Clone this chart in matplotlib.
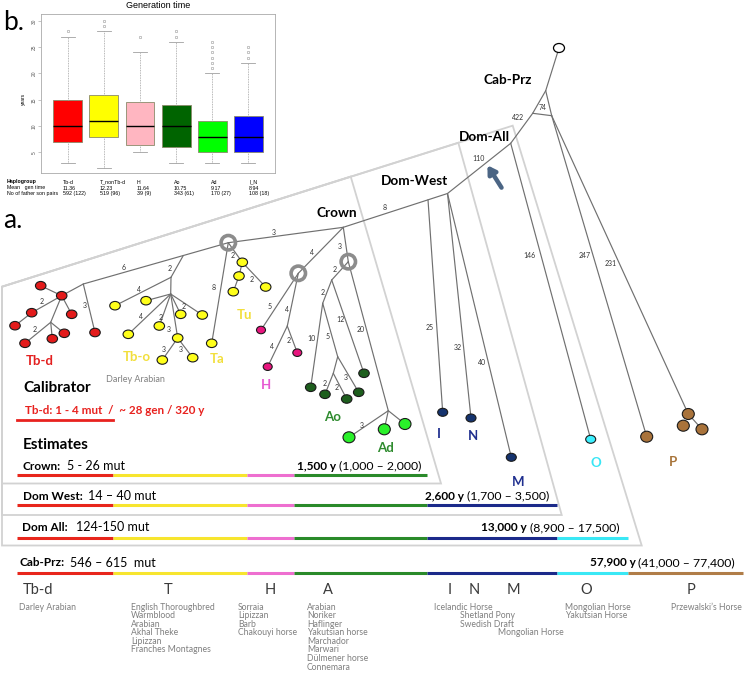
import matplotlib
matplotlib.use('Agg')
import matplotlib.pyplot as plt
from matplotlib.patches import Ellipse, Circle, Polygon

W, H = 747, 676
plt.rcParams['font.family'] = ['Lato', 'DejaVu Sans']

# ---------------- panel b: generation time per haplogroup ----------------
hap_groups = ['Tb-d', 'T_nonTb-d', 'H', 'Ao', 'Ad', 'I_N']
box_colors = ['#ff0000', '#ffff00', '#ffb6c1', '#006400', '#00ff00', '#0000ff']
q1 = [7, 8, 6.5, 6, 5, 5]
medians = [10, 11, 10, 10, 8, 8]
q3 = [15, 16, 14.5, 14, 11, 12]
whisk_lo = [3, 2, 5, 3, 3, 3]
whisk_hi = [27, 28, 24, 26, 20, 22]
outliers = [[28], [29, 30], [27], [27, 28], [21, 22, 23, 24, 25, 26], [23, 24, 25]]
mean_gen = ['11.36', '12.23', '11.64', '10.75', '9.17', '8.94']
pairs = ['592 (122)', '519 (96)', '39 (9)', '343 (61)', '170 (27)', '108 (18)']

# ---------------- panel a: Y-chromosome tree (schematic layout, px) ----------------
nodes = {
    'root': (559, 48), 'cab': (545.7, 90.7), 'triL': (532.7, 113.3), 'triR': (551.7, 115.7),
    'domall': (510.7, 143.3), 'domwest': (447.5, 193.5), 'istart': (428, 199.8),
    'crown': (343.3, 227.3), 'g1': (228.3, 242.7), 'g2': (298.3, 273.3), 'g3': (348.3, 261.7),
    'tbo': (183.3, 255.5), 'tbd': (83.3, 284), 'tboa': (171, 277.3), 'tboh': (170.7, 294),
    'redj': (50.7, 322.3), 'hj': (287.3, 326), 'a1': (331.7, 280), 'a2': (322.7, 303.3),
    'a5': (337.7, 356.7), 'a6': (333.3, 373.3), 'adj': (388.3, 410.7),
    # leaves (haplotypes)
    'r1': (61.7, 295.7), 'r2': (40.7, 285.7), 'r3': (71.7, 314.3), 'r4': (31.7, 312.7),
    'r5': (15, 325.7), 'r6': (25, 343.3), 'r7': (52.3, 338.7), 'r8': (64.3, 333.3), 'r9': (95, 332.5),
    'y1': (115, 305.7), 'y2': (146, 300.7), 'y3': (128.3, 334.3), 'y4': (180.7, 314.3),
    'y5': (202.3, 315), 'y6': (159.3, 326), 'y7': (177.7, 338), 'y8': (162.3, 360), 'y9': (192.7, 357.7),
    'ta': (211.7, 343.3), 'u1': (242.3, 262.3), 'u2': (239, 276), 'u3': (233.3, 291.7), 'u4': (265.7, 287),
    'h1': (261, 330), 'h2': (267.7, 366.7), 'h3': (297.3, 352.7),
    'o1': (310.7, 387.3), 'o2': (325, 394.3), 'o3': (346.7, 399), 'o4': (358.7, 392.3), 'o5': (364, 373.3),
    'd1': (349, 437.3), 'd2': (384.3, 429.3), 'd3': (405, 424),
    'I': (442.7, 412.3), 'N': (471, 418), 'M': (511.3, 457.3), 'O': (590.7, 439.3),
    'p0': (646.7, 436.7), 'p1': (688.3, 414), 'p2': (683.3, 425.7), 'p3': (702, 429.3),
}
# (from, to, mutations, label x, label y)
edges = [
    ('root', 'cab', '', 0, 0), ('cab', 'triL', '', 0, 0), ('cab', 'triR', '', 0, 0),
    ('triL', 'triR', '74', 542.7, 107.3), ('triL', 'domall', '422', 517.7, 117.3),
    ('triR', 'p0', '247', 585, 255), ('triR', 'p1', '231', 611, 263),
    ('domall', 'O', '146', 529.3, 256), ('domall', 'domwest', '110', 479, 158.7),
    ('domwest', 'crown', '8', 385, 207.7), ('istart', 'I', '25', 429.3, 327.7),
    ('domwest', 'N', '32', 457.3, 347.3), ('domwest', 'M', '40', 482.3, 362.7),
    ('crown', 'g1', '3', 274, 232.7), ('crown', 'g2', '4', 311.7, 252.7), ('crown', 'g3', '3', 340, 246.7),
    ('g1', 'tbd', '6', 123.3, 267.3), ('tbo', 'tboa', '2', 170, 268.3),
    ('tboa', 'y1', '4', 139.3, 289), ('tboa', 'tboh', '', 0, 0), ('tboh', 'y2', '', 0, 0),
    ('tboh', 'y3', '4', 140.7, 316.7), ('tboh', 'y4', '2', 183.3, 306.7), ('tboh', 'y5', '', 0, 0),
    ('tboh', 'y6', '2', 160.7, 317.7), ('tboh', 'y7', '3', 168.3, 329.3),
    ('y7', 'y8', '3', 163.3, 349.3), ('y7', 'y9', '3', 181, 350),
    ('g1', 'ta', '8', 214, 288), ('g1', 'u1', '2', 232.3, 255), ('u1', 'u2', '', 0, 0),
    ('u2', 'u3', '', 0, 0), ('u1', 'u4', '2', 251.7, 279),
    ('tbd', 'r9', '3', 85, 306), ('tbd', 'r1', '', 0, 0), ('r1', 'r2', '', 0, 0), ('r1', 'r3', '', 0, 0),
    ('r1', 'r4', '2', 41.7, 302), ('r4', 'r5', '', 0, 0), ('r1', 'redj', '', 0, 0),
    ('redj', 'r6', '2', 34.3, 329.3), ('redj', 'r7', '', 0, 0), ('redj', 'r8', '', 0, 0),
    ('g2', 'h1', '5', 270, 306.7), ('g2', 'hj', '4', 286.7, 310),
    ('hj', 'h2', '4', 271.7, 346.7), ('hj', 'h3', '2', 288.3, 340.7),
    ('g3', 'a1', '2', 335, 269.3), ('a1', 'a2', '2', 322.7, 292.7), ('a1', 'o5', '12', 340, 320),
    ('a2', 'o1', '10', 311, 338.3), ('a2', 'a5', '5', 327.3, 336.7), ('a5', 'a6', '', 0, 0),
    ('a6', 'o2', '2', 325, 384), ('a6', 'o3', '2', 336.7, 387.3), ('a5', 'o4', '3', 345.7, 377.7),
    ('g3', 'adj', '20', 360.7, 329.3), ('adj', 'd1', '3', 361.7, 425), ('adj', 'd2', '', 0, 0),
    ('adj', 'd3', '', 0, 0), ('p1', 'p3', '', 0, 0),
]
leaf_groups = {
    'red': ['r1', 'r2', 'r3', 'r4', 'r5', 'r6', 'r7', 'r8', 'r9'],
    'yellow': ['y1', 'y2', 'y3', 'y4', 'y5', 'y6', 'y7', 'y8', 'y9', 'ta', 'u1', 'u2', 'u3', 'u4'],
    'pink': ['h1', 'h2', 'h3'],
    'dkgreen': ['o1', 'o2', 'o3', 'o4', 'o5'],
    'ltgreen': ['d1', 'd2', 'd3'],
    'navy': ['I', 'N', 'M'],
    'cyan': ['O'],
    'brown': ['p0', 'p1', 'p2', 'p3'],
}
node_style = {
    'red': ('#e31b1b', 10.5, 8.5), 'yellow': ('#ffff1a', 10.5, 8.5), 'pink': ('#e8157e', 9, 7.5),
    'dkgreen': ('#1d5e1d', 10.5, 8.5), 'ltgreen': ('#2af02a', 12, 11), 'navy': ('#15336e', 10, 8),
    'cyan': ('#3cf0ff', 10, 8), 'brown': ('#a9733b', 12, 11),
}
gray_rings = ['g1', 'g2', 'g3']

clade_labels = ['Cab-Prz', 'Dom-All', 'Dom-West', 'Crown']
clade_pos = [(507.7, 80), (484.3, 137.3), (414.3, 181), (337, 213)]
hap_labels = ['Tb-d', 'Tb-o', 'Ta', 'Tu', 'H', 'Ao', 'Ad', 'I', 'N', 'M', 'O', 'P']
hap_pos = [(40, 361), (136.7, 357.3), (216.7, 359), (244.3, 315), (266, 385), (332.3, 416.7),
           (385, 448.3), (439.3, 434), (473.3, 436), (518.3, 482.3), (596, 463.3), (672.7, 462.3)]
hap_colors = ['#e32020', '#f2df3c', '#f2df3c', '#f2df3c', '#e65ad2', '#2e8b2e', '#2e8b2e',
              '#1f2f8f', '#1f2f8f', '#1f2f8f', '#3ae6f5', '#a8743a']

# ---------------- estimates ----------------
est_names = ['Crown:', 'Dom West:', 'Dom All:', 'Cab-Prz:']
est_mut = ['5 - 26 mut', '14 \u2013 40 mut', '124-150 mut', '546 \u2013 615  mut']
est_age = ['1,500 y', '2,600 y', '13,000 y', '57,900 y']
est_ci = ['(1,000 \u2013 2,000)', '(1,700 \u2013 3,500)', '(8,900 \u2013 17,500)', '(41,000 \u2013 77,400)']
bar_colors = ['#e8261c', '#f7e52e', '#ee6fd0', '#2a8a2a', '#1b2a8a', '#3ae8f5', '#b07d48']
bar_edges = [17.3, 113, 246.7, 293.7, 427.3, 557, 628, 743.3]
bar_nseg = [4, 5, 6, 7]

major_haps = ['Tb-d', 'T', 'H', 'A', 'I', 'N', 'M', 'O', 'P']
major_x = [38.3, 167.7, 270, 328.3, 450, 474.3, 513.3, 586.7, 690.7]
breeds = [
    (19, 0, ['Darley Arabian']),
    (131, 0, ['English Thoroughbred', 'Warmblood', 'Arabian', 'Akhal Theke', 'Lipizzan', 'Franches Montagnes']),
    (238, 0, ['Sorraia', 'Lipizzan', 'Barb', 'Chakouyi horse']),
    (307, 0, ['Arabian', 'Noriker', 'Haflinger', 'Yakutsian horse', 'Marchador', 'Marwari',
              'D\u00fclmener horse', 'Connemara']),
    (434, 0, ['Icelandic Horse']),
    (460, 1, ['Shetland Pony', 'Swedish Draft']),
    (497.6, 3, ['Mongolian Horse']),
    (565, 0, ['Mongolian Horse', 'Yakutsian Horse']),
    (671, 0, ["Przewalski\u2019s Horse"]),
]

fig = plt.figure(figsize=(W / 100, H / 100), dpi=100)
ax = fig.add_axes([0, 0, 1, 1])
ax.set_xlim(0, W)
ax.set_ylim(H, 0)
ax.axis('off')
rend = fig.canvas.get_renderer()

# nested clade panels
top_y0, top_slope = 286.7, 0.3141
for xr, xb, yb in [(350.7, 441, 483.5), (458.3, 561.7, 515), (512.7, 641.7, 545.5)]:
    poly = Polygon([(2, top_y0), (xr, top_y0 - top_slope * xr), (xb, yb), (2, yb)], closed=True,
                   fill=False, ec='#d2d2d2', lw=1.3, zorder=0)
    ax.add_patch(poly)

# branches
for a, b, lab, lx, ly in edges:
    (x1, y1), (x2, y2) = nodes[a], nodes[b]
    ax.plot([x1, x2], [y1, y2], color='#707070', lw=0.85, zorder=2, solid_capstyle='round')
    if lab:
        ax.text(lx, ly, lab, fontsize=5, color='#333333', ha='center', va='center', zorder=3)

for g, names in leaf_groups.items():
    col, w, h = node_style[g]
    for n in names:
        ax.add_patch(Ellipse(nodes[n], w, h, fc=col, ec='#1a1a1a', lw=0.8, zorder=4))
ax.add_patch(Ellipse(nodes['root'], 11, 9, fc='white', ec='black', lw=0.9, zorder=4))
for n in gray_rings:
    ax.add_patch(Circle(nodes[n], 7.2, fill=False, ec='#8c8c8c', lw=2.6, zorder=4))

ax.annotate('', xy=(486, 163), xytext=(503, 190),
            arrowprops=dict(arrowstyle='-|>,head_width=0.28,head_length=0.45', lw=3.2,
                            color='#4b6584'), zorder=5)

for lab, (x, y) in zip(clade_labels, clade_pos):
    ax.text(x, y, lab, fontsize=9.8, fontweight='bold', ha='center', va='center', zorder=5)
for lab, (x, y), c in zip(hap_labels, hap_pos, hap_colors):
    ax.text(x, y, lab, fontsize=9.5, fontweight='bold', color=c, ha='center', va='center', zorder=5)
ax.text(135, 380, 'Darley Arabian', fontsize=6.5, color='#808080', ha='center', va='center')

ax.text(3, 220, 'a.', fontsize=19, ha='left', va='center')
ax.text(3, 22, 'b.', fontsize=19, ha='left', va='center')

# calibrator / estimates
ax.text(23.3, 388.3, 'Calibrator', fontsize=11, fontweight='bold', va='center')
ax.text(25, 410, 'Tb-d: 1 - 4 mut  /  ~ 28 gen / 320 y', fontsize=8.4, fontweight='bold',
        color='#e8221f', va='center')
ax.plot([17.3, 112.7], [420, 420], color='#e8221f', lw=2)
ax.text(22.7, 445, 'Estimates', fontsize=11, fontweight='bold', va='center')

row_text_y = [466, 496, 527.3, 562.7]
row_bar_y = [475, 505.3, 537.7, 572.7]
row_left = [22.7, 23.3, 22, 20]
row_right = [421.7, 549.3, 619, 735]
row_gap = [6, 5, 8, 5]
for i in range(4):
    t = ax.text(row_left[i], row_text_y[i], est_names[i], fontsize=8.5, fontweight='bold', va='center')
    w = t.get_window_extent(renderer=rend).width
    ax.text(row_left[i] + w + row_gap[i], row_text_y[i], est_mut[i], fontsize=9, va='center')
    t = ax.text(row_right[i], row_text_y[i], est_ci[i], fontsize=8.8, va='center', ha='right')
    w = t.get_window_extent(renderer=rend).width
    ax.text(row_right[i] - w - 3, row_text_y[i], est_age[i], fontsize=8.5, fontweight='bold',
            va='center', ha='right')
    for k in range(bar_nseg[i]):
        ax.plot([bar_edges[k], bar_edges[k + 1]], [row_bar_y[i]] * 2, color=bar_colors[k],
                lw=2.2, solid_capstyle='butt')

for lab, x in zip(major_haps, major_x):
    ax.text(x, 590, lab, fontsize=10.5, color='#3a3a3a', ha='center', va='center')
for x, r0, names in breeds:
    for k, nm in enumerate(names):
        ax.text(x, 607 + 8.6 * (r0 + k), nm, fontsize=6.2, color='#7f7f7f', ha='left', va='center')

# ---------------- boxplot inset ----------------
bx = fig.add_axes([41 / W, 1 - 173 / H, 234 / W, 159 / H])
stats = [dict(q1=a, med=m, q3=b, whislo=lo, whishi=hi, fliers=f, label=g)
         for a, m, b, lo, hi, f, g in zip(q1, medians, q3, whisk_lo, whisk_hi, outliers, hap_groups)]
bp = bx.bxp(stats, positions=range(1, 7), widths=0.8, capwidths=0.4, patch_artist=True,
            whiskerprops=dict(color='#a0a0a0', lw=0.6, ls=(0, (1, 1))),
            capprops=dict(color='#a0a0a0', lw=0.6),
            medianprops=dict(color='black', lw=1.0),
            flierprops=dict(marker='o', mfc='none', mec='#9a9a9a', ms=1.8, mew=0.4))
for patch, c in zip(bp['boxes'], box_colors):
    patch.set_facecolor(c)
    patch.set_edgecolor('#8a8a6a')
    patch.set_linewidth(0.6)
bx.set_xlim(0.26, 6.74)
bx.set_ylim(1.1, 31.3)
bx.set_xticks([])
bx.set_yticks([5, 10, 15, 20, 25, 30])
bx.tick_params(axis='y', labelsize=3.5, length=2, width=0.4, color='#999999', labelcolor='#555555',
               labelrotation=90, pad=1)
for s in bx.spines.values():
    s.set_color('#aaaaaa')
    s.set_linewidth(0.6)
for lbl in bx.get_yticklabels():
    lbl.set_family('Liberation Sans')
    lbl.set_va('center')

ax.text(158, 6, 'Generation time', fontsize=6.5, family='Liberation Sans', ha='center', va='center')
ax.text(23, 99, 'years', fontsize=3.5, family='Liberation Sans', rotation=90, ha='center', va='center')
tab_x = [63, 100, 137, 174, 211, 249]
ax.text(7, 182, 'Haplogroup', fontsize=3.8, family='Liberation Sans', fontweight='bold', va='center')
ax.text(7, 188, 'Mean   gen time', fontsize=3.8, family='Liberation Sans', va='center')
ax.text(7, 194, 'No of father son pairs', fontsize=3.8, family='Liberation Sans', va='center')
for x, g, m, p in zip(tab_x, hap_groups, mean_gen, pairs):
    for y, s in [(182, g), (188, m), (194, p)]:
        ax.text(x, y, s, fontsize=3.8, family='Liberation Sans', va='center')

fig.savefig('out.png', dpi=100)
